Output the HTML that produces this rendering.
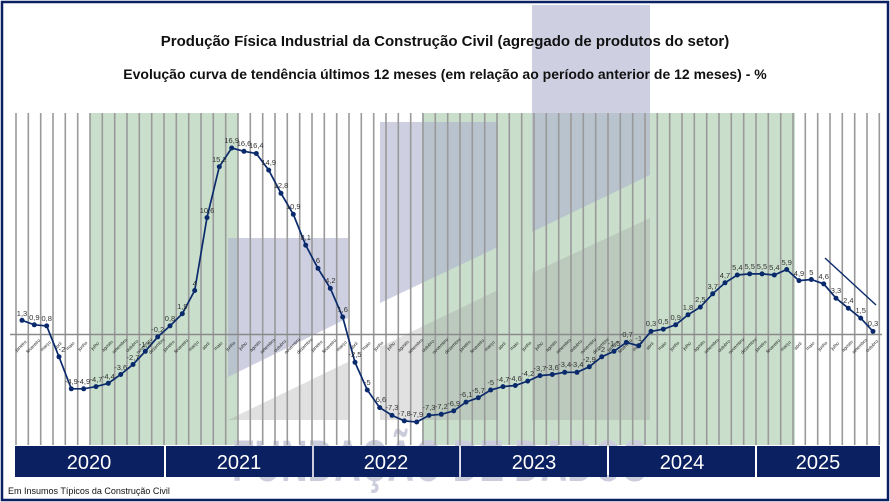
<!DOCTYPE html>
<html><head><meta charset="utf-8"><style>
body{margin:0;background:#fff}
svg{display:block;font-family:"Liberation Sans",Arial,sans-serif}
</style></head><body>
<svg width="890" height="502" viewBox="0 0 890 502" xmlns="http://www.w3.org/2000/svg">
<rect x="0" y="0" width="890" height="502" fill="#fff"/>
<!-- green bands -->
<rect x="90" y="113" width="148" height="332" fill="#c9dfcc"/>
<rect x="422" y="113" width="373" height="332" fill="#c9dfcc"/>
<!-- watermark text -->
<text x="232" y="481" font-size="58" font-weight="bold" fill="#cbcddd" textLength="415" lengthAdjust="spacingAndGlyphs">FUNDAÇÃO DE DADOS</text>
<!-- watermark logo columns -->
<g fill="#aeb1cf" opacity="0.6">
<polygon points="228,238 348,238 348,318 228,377"/>
<polygon points="380,122 498,122 498,247 380,303"/>
<polygon points="532,5 650,5 650,175 532,232"/>
</g>
<g fill="#9a9a9a" opacity="0.3">
<polygon points="228,420 348,362 348,420"/>
<polygon points="380,347 498,290 498,420 380,420"/>
<polygon points="532,273 650,218 650,420 532,420"/>
</g>
<!-- gridlines -->
<g stroke="#9a9a9a" stroke-width="1.6">
<path d="M16 113V445M28.3 113V445M40.7 113V445M53 113V445M65.3 113V445M77.7 113V445M90 113V445M102.3 113V445M114.7 113V445M127 113V445M139.3 113V445M151.7 113V445M164 113V445M176.3 113V445M188.7 113V445M201 113V445M213.3 113V445M225.7 113V445M238 113V445M250.3 113V445M262.7 113V445M275 113V445M287.3 113V445M299.7 113V445M312 113V445M324.3 113V445M336.7 113V445M349 113V445M361.3 113V445M373.7 113V445M386 113V445M398.3 113V445M410.7 113V445M423 113V445M435.3 113V445M447.7 113V445M460 113V445M472.3 113V445M484.7 113V445M497 113V445M509.3 113V445M521.7 113V445M534 113V445M546.3 113V445M558.7 113V445M571 113V445M583.3 113V445M595.7 113V445M608 113V445M620.3 113V445M632.7 113V445M645 113V445M657.3 113V445M669.7 113V445M682 113V445M694.3 113V445M706.7 113V445M719 113V445M731.3 113V445M743.7 113V445M756 113V445M768.3 113V445M780.7 113V445M793 113V445M805.3 113V445M817.7 113V445M830 113V445M842.3 113V445M854.7 113V445M867 113V445M879.3 113V445"/>
</g>
<line x1="10" y1="334.5" x2="882" y2="334.5" stroke="#8a8a8a" stroke-width="1.5"/>
<!-- year bar -->
<g fill="#0b2060">
<rect x="15" y="446" width="149" height="31"/>
<rect x="166" y="446" width="146" height="31"/>
<rect x="314" y="446" width="145" height="31"/>
<rect x="461" y="446" width="146" height="31"/>
<rect x="609" y="446" width="146" height="31"/>
<rect x="757" y="446" width="123" height="31"/>
</g>
<g fill="#fff" font-size="20" text-anchor="middle">
<text x="89" y="469">2020</text><text x="239" y="469">2021</text><text x="386" y="469">2022</text>
<text x="534" y="469">2023</text><text x="682" y="469">2024</text><text x="818" y="469">2025</text>
</g>
<text x="8" y="494" font-size="9" fill="#111">Em Insumos Típicos da Construção Civil</text>
<!-- titles -->
<text x="445" y="46" font-size="15" font-weight="bold" text-anchor="middle" fill="#111">Produção Física Industrial da Construção Civil (agregado de produtos do setor)</text>
<text x="445" y="79" font-size="14" font-weight="bold" text-anchor="middle" fill="#111">Evolução curva de tendência últimos 12 meses (em relação ao período anterior de 12 meses) - %</text>
<!-- month labels -->
<g font-size="4.6" fill="#222" text-anchor="middle">
<text transform="translate(22,347) rotate(-45)">janeiro</text>
<text transform="translate(34.3,347) rotate(-45)">fevereiro</text>
<text transform="translate(46.7,347) rotate(-45)">março</text>
<text transform="translate(59,347) rotate(-45)">abril</text>
<text transform="translate(71.3,347) rotate(-45)">maio</text>
<text transform="translate(83.7,347) rotate(-45)">junho</text>
<text transform="translate(96,347) rotate(-45)">julho</text>
<text transform="translate(108.3,347) rotate(-45)">agosto</text>
<text transform="translate(120.7,347) rotate(-45)">setembro</text>
<text transform="translate(133,347) rotate(-45)">outubro</text>
<text transform="translate(145.3,347) rotate(-45)">novembro</text>
<text transform="translate(157.7,347) rotate(-45)">dezembro</text>
<text transform="translate(170,347) rotate(-45)">janeiro</text>
<text transform="translate(182.3,347) rotate(-45)">fevereiro</text>
<text transform="translate(194.7,347) rotate(-45)">março</text>
<text transform="translate(207,347) rotate(-45)">abril</text>
<text transform="translate(219.3,347) rotate(-45)">maio</text>
<text transform="translate(231.7,347) rotate(-45)">junho</text>
<text transform="translate(244,347) rotate(-45)">julho</text>
<text transform="translate(256.3,347) rotate(-45)">agosto</text>
<text transform="translate(268.7,347) rotate(-45)">setembro</text>
<text transform="translate(281,347) rotate(-45)">outubro</text>
<text transform="translate(293.3,347) rotate(-45)">novembro</text>
<text transform="translate(305.7,347) rotate(-45)">dezembro</text>
<text transform="translate(318,347) rotate(-45)">janeiro</text>
<text transform="translate(330.3,347) rotate(-45)">fevereiro</text>
<text transform="translate(342.7,347) rotate(-45)">março</text>
<text transform="translate(355,347) rotate(-45)">abril</text>
<text transform="translate(367.3,347) rotate(-45)">maio</text>
<text transform="translate(379.7,347) rotate(-45)">junho</text>
<text transform="translate(392,347) rotate(-45)">julho</text>
<text transform="translate(404.3,347) rotate(-45)">agosto</text>
<text transform="translate(416.7,347) rotate(-45)">setembro</text>
<text transform="translate(429,347) rotate(-45)">outubro</text>
<text transform="translate(441.3,347) rotate(-45)">novembro</text>
<text transform="translate(453.7,347) rotate(-45)">dezembro</text>
<text transform="translate(466,347) rotate(-45)">janeiro</text>
<text transform="translate(478.3,347) rotate(-45)">fevereiro</text>
<text transform="translate(490.7,347) rotate(-45)">março</text>
<text transform="translate(503,347) rotate(-45)">abril</text>
<text transform="translate(515.3,347) rotate(-45)">maio</text>
<text transform="translate(527.7,347) rotate(-45)">junho</text>
<text transform="translate(540,347) rotate(-45)">julho</text>
<text transform="translate(552.3,347) rotate(-45)">agosto</text>
<text transform="translate(564.7,347) rotate(-45)">setembro</text>
<text transform="translate(577,347) rotate(-45)">outubro</text>
<text transform="translate(589.3,347) rotate(-45)">novembro</text>
<text transform="translate(601.7,347) rotate(-45)">dezembro</text>
<text transform="translate(614,347) rotate(-45)">janeiro</text>
<text transform="translate(626.3,347) rotate(-45)">fevereiro</text>
<text transform="translate(638.7,347) rotate(-45)">março</text>
<text transform="translate(651,347) rotate(-45)">abril</text>
<text transform="translate(663.3,347) rotate(-45)">maio</text>
<text transform="translate(675.7,347) rotate(-45)">junho</text>
<text transform="translate(688,347) rotate(-45)">julho</text>
<text transform="translate(700.3,347) rotate(-45)">agosto</text>
<text transform="translate(712.7,347) rotate(-45)">setembro</text>
<text transform="translate(725,347) rotate(-45)">outubro</text>
<text transform="translate(737.3,347) rotate(-45)">novembro</text>
<text transform="translate(749.7,347) rotate(-45)">dezembro</text>
<text transform="translate(762,347) rotate(-45)">janeiro</text>
<text transform="translate(774.3,347) rotate(-45)">fevereiro</text>
<text transform="translate(786.7,347) rotate(-45)">março</text>
<text transform="translate(799,347) rotate(-45)">abril</text>
<text transform="translate(811.3,347) rotate(-45)">maio</text>
<text transform="translate(823.7,347) rotate(-45)">junho</text>
<text transform="translate(836,347) rotate(-45)">julho</text>
<text transform="translate(848.3,347) rotate(-45)">agosto</text>
<text transform="translate(860.7,347) rotate(-45)">setembro</text>
<text transform="translate(873,347) rotate(-45)">outubro</text>
</g>
<!-- series -->
<polyline fill="none" stroke="#0b2a6b" stroke-width="1.7" points="22,320.3 34.3,324.8 46.7,325.9 59,356.8 71.3,388.8 83.7,388.8 96,386.6 108.3,383.3 120.7,374.5 133,364.5 145.3,351.3 157.7,336.9 170,325.9 182.3,313.7 194.7,290.5 207,217.6 219.3,166.7 231.7,148 244,151.3 256.3,153.5 268.7,170.1 281,193.3 293.3,214.3 305.7,245.2 318,268.4 330.3,288.3 342.7,317 355,362.3 367.3,390 379.7,407.6 392,415.4 404.3,420.9 416.7,422 429,415.4 441.3,414.3 453.7,410.9 466,402.1 478.3,397.7 490.7,390 503,386.6 515.3,385.5 527.7,381.1 540,375.6 552.3,374.5 564.7,372.3 577,372.3 589.3,366.8 601.7,356.8 614,351.3 626.3,342.4 638.7,345.8 651,331.4 663.3,329.2 675.7,324.8 688,314.8 700.3,307.1 712.7,293.8 725,282.8 737.3,275 749.7,273.9 762,273.9 774.3,275 786.7,269.5 799,280.6 811.3,279.5 823.7,283.9 836,298.2 848.3,308.2 860.7,318.1 873,331.4"/>
<g fill="#0b2a6b">
<circle cx="22" cy="320.3" r="2.5"/><circle cx="34.3" cy="324.8" r="2.5"/><circle cx="46.7" cy="325.9" r="2.5"/><circle cx="59" cy="356.8" r="2.5"/><circle cx="71.3" cy="388.8" r="2.5"/><circle cx="83.7" cy="388.8" r="2.5"/><circle cx="96" cy="386.6" r="2.5"/><circle cx="108.3" cy="383.3" r="2.5"/><circle cx="120.7" cy="374.5" r="2.5"/><circle cx="133" cy="364.5" r="2.5"/><circle cx="145.3" cy="351.3" r="2.5"/><circle cx="157.7" cy="336.9" r="2.5"/><circle cx="170" cy="325.9" r="2.5"/><circle cx="182.3" cy="313.7" r="2.5"/><circle cx="194.7" cy="290.5" r="2.5"/><circle cx="207" cy="217.6" r="2.5"/><circle cx="219.3" cy="166.7" r="2.5"/><circle cx="231.7" cy="148" r="2.5"/><circle cx="244" cy="151.3" r="2.5"/><circle cx="256.3" cy="153.5" r="2.5"/><circle cx="268.7" cy="170.1" r="2.5"/><circle cx="281" cy="193.3" r="2.5"/><circle cx="293.3" cy="214.3" r="2.5"/><circle cx="305.7" cy="245.2" r="2.5"/><circle cx="318" cy="268.4" r="2.5"/><circle cx="330.3" cy="288.3" r="2.5"/><circle cx="342.7" cy="317" r="2.5"/><circle cx="355" cy="362.3" r="2.5"/><circle cx="367.3" cy="390" r="2.5"/><circle cx="379.7" cy="407.6" r="2.5"/><circle cx="392" cy="415.4" r="2.5"/><circle cx="404.3" cy="420.9" r="2.5"/><circle cx="416.7" cy="422" r="2.5"/><circle cx="429" cy="415.4" r="2.5"/><circle cx="441.3" cy="414.3" r="2.5"/><circle cx="453.7" cy="410.9" r="2.5"/><circle cx="466" cy="402.1" r="2.5"/><circle cx="478.3" cy="397.7" r="2.5"/><circle cx="490.7" cy="390" r="2.5"/><circle cx="503" cy="386.6" r="2.5"/><circle cx="515.3" cy="385.5" r="2.5"/><circle cx="527.7" cy="381.1" r="2.5"/><circle cx="540" cy="375.6" r="2.5"/><circle cx="552.3" cy="374.5" r="2.5"/><circle cx="564.7" cy="372.3" r="2.5"/><circle cx="577" cy="372.3" r="2.5"/><circle cx="589.3" cy="366.8" r="2.5"/><circle cx="601.7" cy="356.8" r="2.5"/><circle cx="614" cy="351.3" r="2.5"/><circle cx="626.3" cy="342.4" r="2.5"/><circle cx="638.7" cy="345.8" r="2.5"/><circle cx="651" cy="331.4" r="2.5"/><circle cx="663.3" cy="329.2" r="2.5"/><circle cx="675.7" cy="324.8" r="2.5"/><circle cx="688" cy="314.8" r="2.5"/><circle cx="700.3" cy="307.1" r="2.5"/><circle cx="712.7" cy="293.8" r="2.5"/><circle cx="725" cy="282.8" r="2.5"/><circle cx="737.3" cy="275" r="2.5"/><circle cx="749.7" cy="273.9" r="2.5"/><circle cx="762" cy="273.9" r="2.5"/><circle cx="774.3" cy="275" r="2.5"/><circle cx="786.7" cy="269.5" r="2.5"/><circle cx="799" cy="280.6" r="2.5"/><circle cx="811.3" cy="279.5" r="2.5"/><circle cx="823.7" cy="283.9" r="2.5"/><circle cx="836" cy="298.2" r="2.5"/><circle cx="848.3" cy="308.2" r="2.5"/><circle cx="860.7" cy="318.1" r="2.5"/><circle cx="873" cy="331.4" r="2.5"/>
</g>
<line x1="825" y1="258" x2="876" y2="305" stroke="#0b2a6b" stroke-width="1.4"/>
<!-- value labels -->
<g font-size="7.5" fill="#333" text-anchor="middle">
<text x="22" y="316">1,3</text><text x="34.3" y="320">0,9</text><text x="46.7" y="321">0,8</text><text x="62" y="352">-2</text><text x="71.3" y="384">-4,9</text><text x="83.7" y="384">-4,9</text><text x="96" y="382">-4,7</text><text x="108.3" y="379">-4,4</text><text x="120.7" y="370">-3,6</text><text x="133" y="360">-2,7</text><text x="145.3" y="347">-1,5</text><text x="157.7" y="332">-0,2</text><text x="170" y="321">0,8</text><text x="182.3" y="309">1,9</text><text x="194.7" y="286">4</text><text x="207" y="213">10,6</text><text x="219.3" y="162">15,2</text><text x="231.7" y="143">16,9</text><text x="244" y="146">16,6</text><text x="256.3" y="148">16,4</text><text x="268.7" y="165">14,9</text><text x="281" y="188">12,8</text><text x="293.3" y="209">10,9</text><text x="305.7" y="240">8,1</text><text x="318" y="263">6</text><text x="330.3" y="283">4,2</text><text x="342.7" y="312">1,6</text><text x="355" y="357">-2,5</text><text x="367.3" y="385">-5</text><text x="379.7" y="402">-6,6</text><text x="392" y="410">-7,3</text><text x="404.3" y="416">-7,8</text><text x="416.7" y="417">-7,9</text><text x="429" y="410">-7,3</text><text x="441.3" y="409">-7,2</text><text x="453.7" y="406">-6,9</text><text x="466" y="397">-6,1</text><text x="478.3" y="393">-5,7</text><text x="490.7" y="385">-5</text><text x="503" y="382">-4,7</text><text x="515.3" y="381">-4,6</text><text x="527.7" y="376">-4,2</text><text x="540" y="371">-3,7</text><text x="552.3" y="370">-3,6</text><text x="564.7" y="367">-3,4</text><text x="577" y="367">-3,4</text><text x="589.3" y="362">-2,9</text><text x="601.7" y="352">-2</text><text x="614" y="346">-1,5</text><text x="626.3" y="337">-0,7</text><text x="638.7" y="341">-1</text><text x="651" y="326">0,3</text><text x="663.3" y="324">0,5</text><text x="675.7" y="320">0,9</text><text x="688" y="310">1,8</text><text x="700.3" y="302">2,5</text><text x="712.7" y="289">3,7</text><text x="725" y="278">4,7</text><text x="737.3" y="270">5,4</text><text x="749.7" y="269">5,5</text><text x="762" y="269">5,5</text><text x="774.3" y="270">5,4</text><text x="786.7" y="265">5,9</text><text x="799" y="276">4,9</text><text x="811.3" y="275">5</text><text x="823.7" y="279">4,6</text><text x="836" y="293">3,3</text><text x="848.3" y="303">2,4</text><text x="860.7" y="313">1,5</text><text x="873" y="326">0,3</text>
</g>
<!-- border -->
<rect x="2" y="2" width="886" height="498" fill="none" stroke="#0b2060" stroke-width="2.5"/>
</svg>
</body></html>
